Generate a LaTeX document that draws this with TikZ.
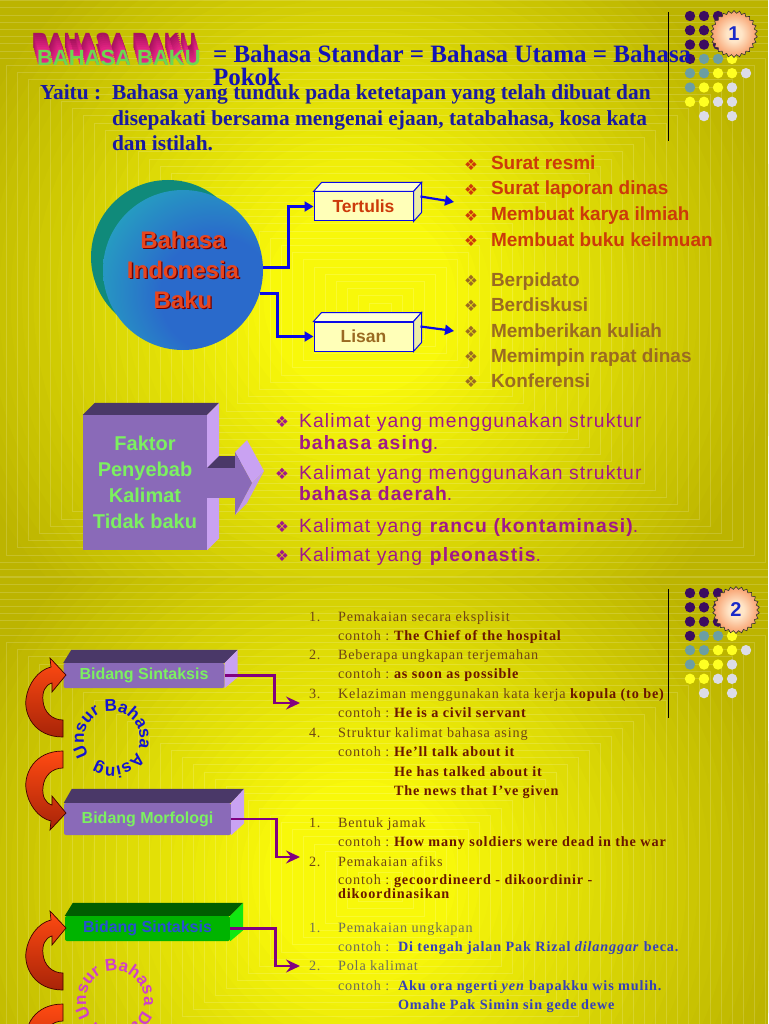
\documentclass[tikz,border=0pt]{standalone}
\usepackage{fontspec}
\usetikzlibrary{shapes.geometric,arrows.meta,calc,decorations.text}
\setmainfont{Liberation Serif}
\newfontfamily\arial{Liberation Sans}
\newfontfamily\arialls[LetterSpace=6]{Liberation Sans}
\newfontfamily\tnr{Liberation Serif}
\newfontfamily\tnrls[LetterSpace=6]{Liberation Serif}
\newfontfamily\dejavu{DejaVu Sans}
\newcommand\fsz[1]{\fontsize{#1}{#1}\selectfont}
\newcommand\bul[1]{\makebox[#1][l]{\raisebox{-0.5pt}{\dejavu\fsz{15.5}❖}}}
\definecolor{bgolive}{HTML}{BCB400}
\definecolor{bgyellow}{HTML}{F8F80A}
\definecolor{hdrblue}{HTML}{1414B4}
\definecolor{yaitublue}{HTML}{1A1AA0}
\definecolor{arrblue}{HTML}{0A0AE6}
\definecolor{boxface}{HTML}{FFFFB8}
\definecolor{boxtop}{HTML}{FFFFD8}
\definecolor{boxside}{HTML}{ECECA8}
\definecolor{tertred}{HTML}{CC3A0A}
\definecolor{lisbrown}{HTML}{9A6A22}
\definecolor{circback}{HTML}{108A7A}
\definecolor{circteal}{HTML}{22CDB8}
\definecolor{circblue}{HTML}{2A6ACB}
\definecolor{circtext}{HTML}{E8461E}
\definecolor{purfront}{HTML}{8A6AB8}
\definecolor{purtop}{HTML}{4A3868}
\definecolor{purside}{HTML}{C9A2F2}
\definecolor{facgreen}{HTML}{7CF060}
\definecolor{facmag}{HTML}{A0188A}
\definecolor{dotpur}{HTML}{3C0C60}
\definecolor{dotteal}{HTML}{6C9EA2}
\definecolor{dotyel}{HTML}{FFFF22}
\definecolor{dotgray}{HTML}{DCDCE6}
\definecolor{badgein}{HTML}{FFE6C8}
\definecolor{badgeout}{HTML}{F05A14}
\definecolor{badgeblue}{HTML}{1A2AC8}
\definecolor{wapink}{HTML}{F0288C}
\definecolor{wadark}{HTML}{8A0A4A}
\definecolor{wagreen}{HTML}{6CD850}
\definecolor{connpur}{HTML}{820080}
\definecolor{curlred}{HTML}{FF4A12}
\definecolor{curldark}{HTML}{A82408}
\definecolor{txtbrown}{HTML}{704614}
\definecolor{txtmaroon}{HTML}{6A1600}
\definecolor{txtgray}{HTML}{6E6E58}
\definecolor{txtblue}{HTML}{3540B8}
\definecolor{grnfront}{HTML}{00B400}
\definecolor{grntop}{HTML}{005E00}
\definecolor{grnside}{HTML}{10E810}
\definecolor{grntext}{HTML}{2850D0}
\definecolor{ringblue}{HTML}{1414D0}
\definecolor{ringmag}{HTML}{D040C8}
\pgfdeclareradialshading{bibshade}{\pgfpoint{14bp}{-10bp}}{color(0bp)=(circblue); color(18bp)=(circblue); color(52bp)=(circteal); color(80bp)=(circteal)}
\pgfdeclareradialshading{badgeshade}{\pgfpointorigin}{color(0bp)=(badgein); color(8bp)=(badgein); color(40bp)=(badgeout); color(50bp)=(badgeout)}
\newcommand\wordart{%
  \foreach \i in {9,...,1}{%
    \pgfmathtruncatemacro\p{100-\i*8}%
    \pgfmathsetmacro\hx{-0.56*\i}%
    \pgfmathsetmacro\vy{1.9*\i}%
    \rlap{\hspace*{\hx pt}\raisebox{\vy pt}{\textcolor{wapink!\p!wadark}{BAHASA BAKU}}}}%
  \textcolor{wagreen}{BAHASA BAKU}}
\begin{document}
\begin{tikzpicture}[x=1pt,y=-1pt,
  bluearrow/.style={draw=arrblue, line width=2.8pt, -{Triangle[length=9pt,width=10pt]}},
  purparrow/.style={draw=connpur, line width=2.6pt, -{Stealth[length=14pt,width=13pt,inset=5pt]}},
  txt/.style={anchor=base west, inner sep=0pt, outer sep=0pt},
  boxthree/.style={rectangle, inner sep=0pt},
  curl/.style={top color=curlred, bottom color=curldark, draw=black!75!red, line width=.7pt},
  stxt/.style={txt, font=\tnrls\fsz{14.2}},
]
\useasboundingbox (0,0) rectangle (768,1024);
% ---------- backgrounds ----------
\foreach \sy/\sh in {0/577,577/447} {
  \begin{scope}
    \clip (0,\sy) rectangle (768,\sy+\sh);
    \fill[bgolive] (0,\sy) rectangle (768,\sy+577);
    \foreach \k in {0,...,29} {
      \pgfmathtruncatemacro\pc{100*\k/29}
      \fill[bgyellow!\pc!bgolive] (360,\sy+300) circle ({430-11.5*\k});
    }
    \foreach \k in {1,...,52}
      \draw[white, opacity=.16, line width=.5pt] ({380-11*\k},{\sy+310-7.2*\k}) rectangle ({380+11*\k},{\sy+310+7.2*\k});
  \end{scope}
}
% ---------- dots, lines, badges ----------
\foreach \sy in {0,577} {
  \foreach \c/\r/\col in {0/0/dotpur,1/0/dotpur,2/0/dotpur,0/1/dotpur,1/1/dotpur,2/1/dotpur,0/2/dotpur,1/2/dotpur,2/2/dotpur,0/3/dotpur,1/3/dotteal,2/3/dotteal,3/3/dotyel,0/4/dotteal,1/4/dotteal,2/4/dotyel,3/4/dotyel,4/4/dotgray,0/5/dotteal,1/5/dotyel,2/5/dotyel,3/5/dotgray,0/6/dotyel,1/6/dotyel,2/6/dotgray,3/6/dotgray,1/7/dotgray,3/7/dotgray}
    \fill[\col] ({690+14*\c},{\sy+16+14.3*\r}) circle (5.2);
  \draw[black, line width=.8pt] (668,\sy+12) -- (668,\sy+141);
}
\node[star, star points=26, star point ratio=1.13, minimum size=47pt, inner sep=0pt, shading=badgeshade, draw=black!80, line width=.6pt, font=\arial\bfseries\fsz{20}, text=badgeblue] (badge1) at (734,34) {1};
\node[star, star points=26, star point ratio=1.13, minimum size=47pt, inner sep=0pt, shading=badgeshade, draw=black!80, line width=.6pt, font=\arial\bfseries\fsz{20}, text=badgeblue] (badge2) at (736,610) {2};
% ---------- header ----------
\node[txt, font=\arial\bfseries\fsz{22}] (wordart) at (37,66) {\wordart};
\node[txt, text=hdrblue] (hdr) at (213,63) {\tnr\bfseries\fsz{25}= Bahasa Standar = Bahasa Utama = Bahasa};
\node[txt, text=hdrblue] (pokok) at (213,86) {\tnr\bfseries\fsz{25}Pokok};
\node[txt, text=yaitublue] (yaitu) at (40,100) {\tnr\bfseries\fsz{21.4}Yaitu :};
\node[txt, text=yaitublue] (def1) at (112,100) {\tnr\bfseries\fsz{21.4}Bahasa yang tunduk pada ketetapan yang telah dibuat dan};
\node[txt, text=yaitublue] (def2) at (112,125.5) {\tnr\bfseries\fsz{21.4}disepakati bersama mengenai ejaan, tatabahasa, kosa kata};
\node[txt, text=yaitublue] (def3) at (112,151) {\tnr\bfseries\fsz{21.4}dan istilah.};
% ---------- circle ----------
\fill[circback] (168,257) circle (77);
\node[circle, minimum size=160pt, inner sep=0pt, shading=bibshade] (bib) at (183,270) {};
\node[align=center, text=black!55!red, font=\arial\bfseries\fontsize{24}{30}\selectfont] (bibshadow) at (184.3,271.3) {Bahasa\\Indonesia\\Baku};
\node[align=center, text=circtext, font=\arial\bfseries\fontsize{24}{30}\selectfont] (bibtext) at (183,270) {Bahasa\\Indonesia\\Baku};
% ---------- Tertulis / Lisan ----------
\foreach \nm/\yy/\lab/\col in {tert/206.5/Tertulis/tertred, lis/336.5/Lisan/lisbrown} {
  \node[boxthree, fill=boxface, draw=arrblue, line width=1pt, minimum width=99pt, minimum height=29pt, text=\col, font=\arial\bfseries\fsz{17.5}] (\nm) at (363.5,\yy) {\lab};
  \filldraw[fill=boxtop, draw=arrblue, line width=1pt] (\nm.north west) -- ++(8,-9) -- ($(\nm.north east)+(8,-9)$) -- (\nm.north east) -- cycle;
  \filldraw[fill=boxside, draw=arrblue, line width=1pt] (\nm.north east) -- ++(8,-9) -- ($(\nm.south east)+(8,-9)$) -- (\nm.south east) -- cycle;
}
\draw[bluearrow] (bib.2) -- ++(25,0) |- (tert.west);
\draw[bluearrow] (bib.-17) -- ++(18,0) |- (lis.west);
\coordinate (tertend) at (454,202);
\coordinate (lisend) at (454,331);
\draw[bluearrow, line width=2.2pt] ($(tert.east)+(7,-10)$) -- (tertend);
\draw[bluearrow, line width=2.2pt] ($(lis.east)+(7,-10)$) -- (lisend);
% ---------- lists ----------
\foreach \tx/\yy [count=\i] in {Surat resmi/170, Surat laporan dinas/195, Membuat karya ilmiah/221, Membuat buku keilmuan/246}
  \node[txt, text=tertred, font=\arial\bfseries\fsz{19}] (tl\i) at (464,\yy) {\bul{27pt}\tx};
\foreach \tx/\yy [count=\i] in {Berpidato/286, Berdiskusi/311, Memberikan kuliah/337, Memimpin rapat dinas/362, Konferensi/387}
  \node[txt, text=lisbrown, font=\arial\bfseries\fsz{19}] (ll\i) at (464,\yy) {\bul{27pt}\tx};
% ---------- Faktor ----------
\node[boxthree, fill=purfront, minimum width=124pt, minimum height=135pt, align=center, text=facgreen, font=\arial\bfseries\fontsize{20}{26}\selectfont] (fkt) at (145,482.5) {Faktor\\Penyebab\\Kalimat\\Tidak baku};
\fill[purtop] (fkt.north west) -- ++(12,-12) -- ($(fkt.north east)+(12,-12)$) -- (fkt.north east) -- cycle;
\fill[purside] (fkt.north east) -- ++(12,-12) -- ($(fkt.south east)+(12,-12)$) -- (fkt.south east) -- cycle;
\fill[purtop] (207,468) -- (219,456) -- (247,456) -- (235,468) -- cycle;
\fill[purfront] (207,468) rectangle (235,498);
\fill[purside] (235,452) -- (247,440) -- (264,471) -- (252,483) -- cycle;
\fill[purside!85!purfront] (252,483) -- (264,471) -- (247,503) -- (235,515) -- cycle;
\fill[purfront] (235,452) -- (252,483) -- (235,515) -- cycle;
\node[txt, text=facmag, font=\arialls\fsz{19.3}] (fl1) at (275,427) {\bul{24pt}Kalimat yang menggunakan struktur};
\node[txt, text=facmag, font=\arialls\fsz{19.3}] (fl1b) at (299,449) {\textbf{bahasa asing}.};
\node[txt, text=facmag, font=\arialls\fsz{19.3}] (fl2) at (275,479) {\bul{24pt}Kalimat yang menggunakan struktur};
\node[txt, text=facmag, font=\arialls\fsz{19.3}] (fl2b) at (299,500) {\textbf{bahasa daerah}.};
\node[txt, text=facmag, font=\arialls\fsz{19.3}] (fl3) at (275,532) {\bul{24pt}Kalimat yang \textbf{rancu (kontaminasi)}.};
\node[txt, text=facmag, font=\arialls\fsz{19.3}] (fl4) at (275,561) {\bul{24pt}Kalimat yang \textbf{pleonastis}.};
% ---------- slide 2 boxes ----------
\node[boxthree, fill=purfront, rounded corners=2pt, minimum width=161pt, minimum height=25pt, text=facgreen, font=\arial\bfseries\fsz{16}] (bs1) at (144,675.5) {Bidang Sintaksis};
\fill[purtop] (bs1.north west) -- ++(8,-13) -- ($(bs1.north east)+(13,-13)$) -- (bs1.north east) -- cycle;
\fill[purside] (bs1.north east) -- ++(13,-13) -- ($(bs1.south east)+(13,-11)$) -- (bs1.south east) -- cycle;
\node[boxthree, fill=purfront, rounded corners=2pt, minimum width=167pt, minimum height=32pt, text=facgreen, font=\arial\bfseries\fsz{16}] (bm) at (147.5,819) {Bidang Morfologi};
\fill[purtop] (bm.north west) -- ++(8,-14) -- ($(bm.north east)+(13,-14)$) -- (bm.north east) -- cycle;
\fill[purside] (bm.north east) -- ++(13,-14) -- ($(bm.south east)+(13,-12)$) -- (bm.south east) -- cycle;
\node[boxthree, fill=grnfront, rounded corners=2pt, minimum width=165pt, minimum height=25pt, text=grntext, font=\arial\bfseries\fsz{16}] (bs2) at (147.5,928.5) {Bidang Sintaksis};
\fill[grntop] (bs2.north west) -- ++(8,-13) -- ($(bs2.north east)+(13,-13)$) -- (bs2.north east) -- cycle;
\fill[grnside] (bs2.north east) -- ++(13,-13) -- ($(bs2.south east)+(13,-11)$) -- (bs2.south east) -- cycle;
\coordinate (ea3) at (300,703);
\coordinate (eb2) at (300,857);
\coordinate (ec2) at (300,966);
\draw[purparrow] (bs1.east) -- ++(50,0) |- (ea3);
\draw[purparrow] (bm.east) -- ++(45,0) |- (eb2);
\draw[purparrow] (bs2.east) -- ++(45,0) |- (ec2);
% ---------- curls ----------
\foreach \dy/\ys in {0/1, 1488/-1, 253/1, 1741/-1} {
  \begin{scope}[shift={(0,\dy)}, yscale=\ys]
    \shade[curl] (63,720) -- (63,737) .. controls (34,737) and (24,714) .. (26,699) .. controls (28,684) and (38,670) .. (51,667) -- (50,658) -- (66,675) -- (52,692) -- (52,683) .. controls (45,685) and (42,692) .. (43,701) .. controls (44,712) and (52,720) .. (63,720) -- cycle;
  \end{scope}
}
% ---------- ring texts ----------
\coordinate (ring1) at (112,739);
\coordinate (ring2) at (115,1000);
\path[decorate, decoration={text along path, text align=left, text={|\color{ringblue}\arial\bfseries\fsz{17}|Unsur Bahasa Asing}}] (ring1) ++(145:28) arc[start angle=145, end angle=505, radius=28];
\path[decorate, decoration={text along path, text align=left, text={|\color{ringmag}\arial\bfseries\fsz{17}|Unsur Bahasa Daerah}}] (ring2) ++(145:29) arc[start angle=145, end angle=505, radius=29];
% ---------- slide 2 texts ----------
\begin{scope}[every node/.style={stxt}]
\node[text=txtbrown] (na1) at (309,621) {1.};
\node[text=txtbrown] (ta1) at (338,621) {Pemakaian secara eksplisit};
\node[text=txtbrown] (ca1) at (338,640) {\makebox[56pt][l]{contoh :}\textcolor{txtmaroon}{\bfseries The Chief of the hospital}};
\node[text=txtbrown] (na2) at (309,659) {2.};
\node[text=txtbrown] (ta2) at (338,659) {Beberapa ungkapan terjemahan};
\node[text=txtbrown] (ca2) at (338,678) {\makebox[56pt][l]{contoh :}\textcolor{txtmaroon}{\bfseries as soon as possible}};
\node[text=txtbrown] (na3) at (309,698) {3.};
\node[text=txtbrown] (ta3) at (338,698) {Kelaziman menggunakan kata kerja \textcolor{txtmaroon}{\bfseries kopula (to be)}};
\node[text=txtbrown] (ca3) at (338,717) {\makebox[56pt][l]{contoh :}\textcolor{txtmaroon}{\bfseries He is a civil servant}};
\node[text=txtbrown] (na4) at (309,737) {4.};
\node[text=txtbrown] (ta4) at (338,737) {Struktur kalimat bahasa asing};
\node[text=txtbrown] (ca4) at (338,756) {\makebox[56pt][l]{contoh :}\textcolor{txtmaroon}{\bfseries He’ll talk about it}};
\node[text=txtmaroon, font=\tnrls\bfseries\fsz{14.2}] (ca4b) at (394,776) {He has talked about it};
\node[text=txtmaroon, font=\tnrls\bfseries\fsz{14.2}] (ca4c) at (394,795) {The news that I’ve given};
\node[text=txtbrown] (nb1) at (309,827) {1.};
\node[text=txtbrown] (tb1) at (338,827) {Bentuk jamak};
\node[text=txtbrown] (cb1) at (338,846) {\makebox[56pt][l]{contoh :}\textcolor{txtmaroon}{\bfseries How many soldiers were dead in the war}};
\node[text=txtbrown] (nb2) at (309,866) {2.};
\node[text=txtbrown] (tb2) at (338,866) {Pemakaian afiks};
\node[text=txtbrown] (cb2) at (338,884) {\makebox[56pt][l]{contoh :}\textcolor{txtmaroon}{\bfseries gecoordineerd - dikoordinir -}};
\node[text=txtmaroon, font=\tnrls\bfseries\fsz{14.2}] (cb2b) at (338,898) {dikoordinasikan};
\node[text=txtgray] (nc1) at (309,932) {1.};
\node[text=txtgray] (tc1) at (338,932) {Pemakaian ungkapan};
\node[text=txtgray] (cc1) at (338,951) {\makebox[60pt][l]{contoh :}\textcolor{txtblue}{\bfseries Di tengah jalan Pak Rizal \textit{dilanggar} beca.}};
\node[text=txtgray] (nc2) at (309,970) {2.};
\node[text=txtgray] (tc2) at (338,970) {Pola kalimat};
\node[text=txtgray] (cc2) at (338,990) {\makebox[60pt][l]{contoh :}\textcolor{txtblue}{\bfseries Aku ora ngerti \textit{yen} bapakku wis mulih.}};
\node[text=txtblue, font=\tnrls\bfseries\fsz{14.2}] (cc2b) at (398,1009) {Omahe Pak Simin sin gede dewe};
\end{scope}
\end{tikzpicture}
\end{document}
